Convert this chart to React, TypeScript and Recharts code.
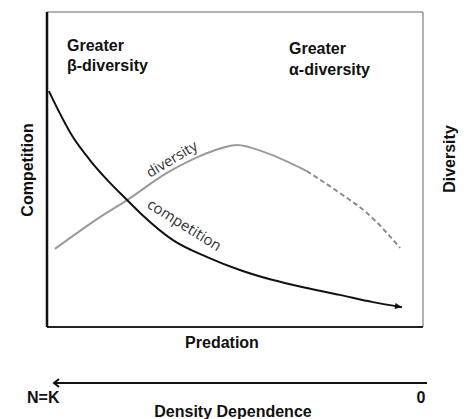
import { LineChart, Line, XAxis, YAxis, ReferenceLine } from 'recharts';

// Predation (x, 0-100) vs. relative level (y, 0-100)
const competitionX = [0.5, 6.9, 11.4, 16, 21.3, 24.7, 33.5, 42.6, 51.3, 60.1, 69.1, 77.9, 86.7, 94.4];
const competitionY = [74.9, 60.3, 53.0, 46.7, 40.3, 36.3, 27.6, 22.2, 18.1, 14.9, 12.4, 10.2, 7.9, 6.3];

const diversityX = [2.1, 14.1, 21.3, 31.9, 40.2, 46.5, 50.5, 58.5, 69.1];
const diversityY = [24.8, 34.9, 40.3, 48.9, 54.0, 56.8, 57.8, 55.2, 49.5];

// uncertain tail of the diversity curve (drawn dashed)
const dashedX = [69.1, 77.9, 85.1, 93.9];
const dashedY = [49.5, 42.5, 36.2, 25.1];

const toPoints = (xs: number[], ys: number[]) => xs.map((x, i) => ({ x, y: ys[i] }));

const competition = toPoints(competitionX, competitionY);
const diversity = toPoints(diversityX, diversityY);
const diversityTail = toPoints(dashedX, dashedY);

const W = 466;
const H = 419;
const FONT = '"Liberation Sans", Arial, sans-serif';
const SOFT = '"Open Sans", "Noto Sans", sans-serif';

// small arrow head on the last point of the competition curve
function ArrowEnd(props: any) {
  const { cx, cy, index, points } = props;
  if (index !== competition.length - 1 || !points) return <g key={`d-${index}`} />;
  const prev = points[index - 1];
  const ang = (Math.atan2(cy - prev.y, cx - prev.x) * 180) / Math.PI;
  return (
    <path
      key={`d-${index}`}
      d="M0,0 L-7,-3 L-7,3 Z"
      fill="#111"
      transform={`translate(${cx},${cy}) rotate(${ang})`}
    />
  );
}

export default function App() {
  return (
    <div style={{ position: 'absolute', left: 0, top: 0, width: W, height: H, background: '#fff' }}>
      <LineChart width={W} height={H} margin={{ top: 12, right: 43, bottom: 92, left: 47 }}>
        <XAxis dataKey="x" type="number" domain={[0, 100]} hide />
        <YAxis type="number" domain={[0, 100]} hide />
        {/* frame: dark left/bottom, light top/right */}
        <ReferenceLine y={100} stroke="#999" strokeWidth={1.5} />
        <ReferenceLine x={100} stroke="#999" strokeWidth={1.5} />
        <ReferenceLine y={0} stroke="#222" strokeWidth={2} />
        <ReferenceLine x={0} stroke="#111" strokeWidth={2.5} />
        <Line
          data={diversity}
          dataKey="y"
          type="monotone"
          stroke="#9a9a9a"
          strokeWidth={2}
          dot={false}
          isAnimationActive={false}
        />
        <Line
          data={diversityTail}
          dataKey="y"
          type="monotone"
          stroke="#8c8c8c"
          strokeWidth={2}
          strokeDasharray="5 3"
          dot={false}
          isAnimationActive={false}
        />
        <Line
          data={competition}
          dataKey="y"
          type="monotone"
          stroke="#111"
          strokeWidth={2}
          dot={ArrowEnd}
          isAnimationActive={false}
        />
      </LineChart>

      {/* annotations and the density-dependence axis below */}
      <svg
        width={W}
        height={H}
        style={{ position: 'absolute', left: 0, top: 0, pointerEvents: 'none' }}
      >
        <g fontFamily={FONT} fontWeight="bold" fontSize={16} fill="#111">
          <text x={67} y={51}>Greater</text>
          <text x={67} y={71}>β-diversity</text>
          <text x={289} y={54}>Greater</text>
          <text x={289} y={75}>α-diversity</text>
          <text transform="translate(33,170) rotate(-90)" textAnchor="middle">Competition</text>
          <text transform="translate(455,159) rotate(-90)" textAnchor="middle">Diversity</text>
          <text x={222} y={348} textAnchor="middle">Predation</text>
          <text x={27} y={403}>N=K</text>
          <text x={421} y={403} textAnchor="middle">0</text>
          <text x={233} y={417} textAnchor="middle">Density Dependence</text>
        </g>
        <g fontFamily={SOFT} fill="#333">
          <text fontSize={14.5} transform="translate(150,178) rotate(-31)">diversity</text>
          <text fontSize={15} transform="translate(146,207) rotate(32)">competition</text>
        </g>
        <line x1={427} y1={383} x2={54} y2={383} stroke="#111" strokeWidth={2} />
        <polyline points="59,379 54,383 59,387" fill="none" stroke="#111" strokeWidth={2} />
      </svg>
    </div>
  );
}
